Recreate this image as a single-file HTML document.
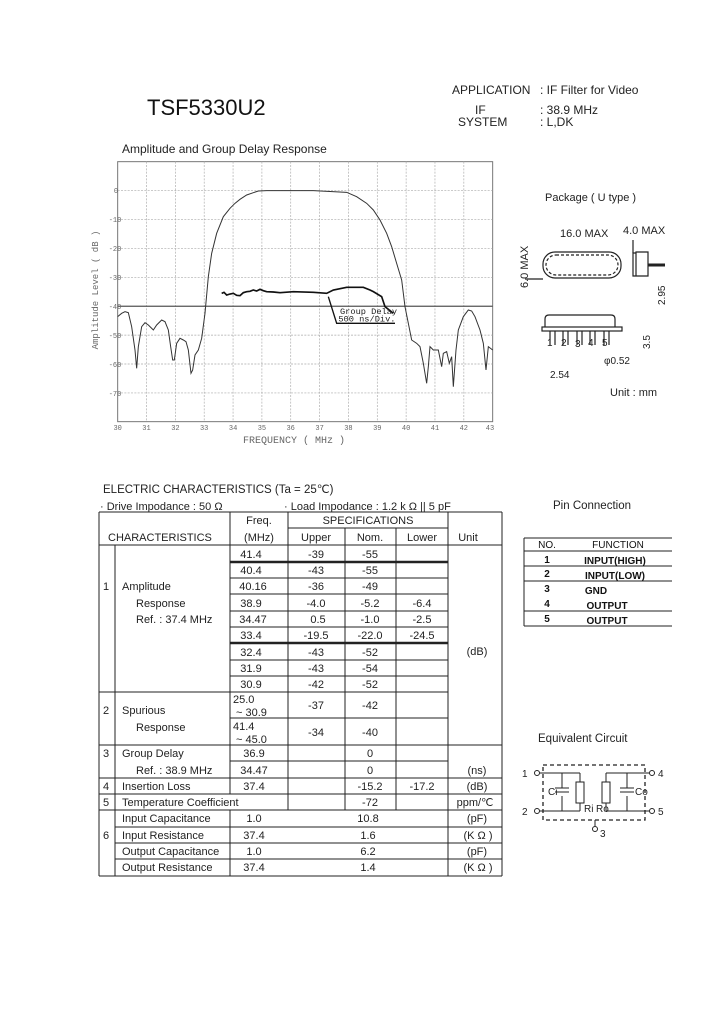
<!DOCTYPE html>
<html><head><meta charset="utf-8"><style>
html,body{margin:0;padding:0;background:#fff;}
svg{display:block;font-family:"Liberation Sans",sans-serif;}
</style></head><body>
<svg width="720" height="1012" viewBox="0 0 720 1012" xmlns="http://www.w3.org/2000/svg">
<rect width="720" height="1012" fill="#fff"/>
<text x="147" y="115" font-size="22" fill="#111">TSF5330U2</text>
<g font-size="12" fill="#222">
<text x="452" y="94">APPLICATION</text><text x="540" y="94">: IF Filter for Video</text>
<text x="475" y="114">IF</text><text x="540" y="114">: 38.9 MHz</text>
<text x="458" y="126">SYSTEM</text><text x="540" y="126">: L,DK</text>
<text x="122" y="153">Amplitude and Group Delay Response</text>
</g>
<!-- chart -->
<g transform="translate(80,150) scale(0.33333)" fill="none">
<rect x="113" y="35" width="1125" height="780" stroke="#777" stroke-width="3"/>
<g stroke="#aaa" stroke-width="2" stroke-dasharray="6 4">
<line x1="199.5" y1="35" x2="199.5" y2="815"/><line x1="286.1" y1="35" x2="286.1" y2="815"/><line x1="372.6" y1="35" x2="372.6" y2="815"/><line x1="459.2" y1="35" x2="459.2" y2="815"/><line x1="545.7" y1="35" x2="545.7" y2="815"/><line x1="632.2" y1="35" x2="632.2" y2="815"/><line x1="718.8" y1="35" x2="718.8" y2="815"/><line x1="805.3" y1="35" x2="805.3" y2="815"/><line x1="891.9" y1="35" x2="891.9" y2="815"/><line x1="978.4" y1="35" x2="978.4" y2="815"/><line x1="1064.9" y1="35" x2="1064.9" y2="815"/><line x1="1151.5" y1="35" x2="1151.5" y2="815"/>
<line x1="113" y1="122" x2="1238" y2="122"/><line x1="113" y1="208.7" x2="1238" y2="208.7"/><line x1="113" y1="295.4" x2="1238" y2="295.4"/><line x1="113" y1="382" x2="1238" y2="382"/><line x1="113" y1="555.4" x2="1238" y2="555.4"/><line x1="113" y1="642" x2="1238" y2="642"/><line x1="113" y1="728.7" x2="1238" y2="728.7"/>
</g>
<line x1="113" y1="468.7" x2="1238" y2="468.7" stroke="#555" stroke-width="4"/>
<polyline stroke="#333" stroke-width="3" points="113,500 125,490 135,485 145,488 155,530 165,600 170,655 175,590 185,530 195,518 205,525 220,540 230,525 245,510 255,515 265,540 272,590 278,630 283,630 290,580 300,565 310,570 318,575 325,600 333,670 338,660 345,615 355,600 365,565 375,490 385,380 395,310 410,250 430,200 450,175 465,160 480,148 500,135 520,128 535,123 560,122 700,122 800,127 830,140 860,160 880,180 900,210 920,250 935,290 950,340 965,390 975,470 985,520 995,570 1010,580 1020,590 1030,640 1040,700 1045,650 1050,590 1060,600 1075,600 1085,650 1090,610 1100,605 1108,640 1115,620 1120,710 1128,600 1135,540 1150,500 1165,480 1175,483 1185,500 1200,540 1210,580 1218,660 1225,590 1238,600"/>
<polyline stroke="#111" stroke-width="5" points="425,430 432,427 440,435 450,432 460,430 470,436 480,437 490,428 500,425 510,424 520,420 530,423 540,418 550,422 560,425 580,426 600,428 640,425 700,427 740,430 760,420 780,416 800,412 850,412 870,420 880,425 905,440 915,470 940,490"/>
<polyline stroke="#111" stroke-width="4" points="745,440 770,520 945,520"/>
<text x="780" y="492" fill="#222" font-size="26" font-family="Liberation Mono,monospace">Group Delay</text>
<text x="775" y="515" fill="#222" font-size="26" font-family="Liberation Mono,monospace">500 ns/Div.</text>
</g>
<g font-size="7" fill="#666" text-anchor="middle" font-family="Liberation Mono,monospace">
<text x="117.7" y="430">30</text><text x="146.5" y="430">31</text><text x="175.4" y="430">32</text><text x="204.2" y="430">33</text><text x="233.1" y="430">34</text><text x="261.9" y="430">35</text><text x="290.7" y="430">36</text><text x="319.6" y="430">37</text><text x="348.4" y="430">38</text><text x="377.3" y="430">39</text><text x="406.1" y="430">40</text><text x="435" y="430">41</text><text x="463.8" y="430">42</text><text x="490" y="430">43</text>
<text x="116" y="193">0</text><text x="115" y="222">-10</text><text x="115" y="251">-20</text><text x="115" y="280">-30</text><text x="115" y="309">-40</text><text x="115" y="338">-50</text><text x="115" y="367">-60</text><text x="115" y="396">-70</text>
</g>
<text x="243" y="443" font-size="10" fill="#666" font-family="Liberation Mono,monospace">FREQUENCY  ( MHz )</text>
<text transform="translate(98,290) rotate(-90)" font-size="9" fill="#666" text-anchor="middle" font-family="Liberation Mono,monospace">Amplitude Level  ( dB )</text>
<!-- package -->
<g font-size="11" fill="#222">
<text x="545" y="201">Package ( U type )</text>
<text x="560" y="237">16.0 MAX</text><text x="623" y="234">4.0 MAX</text>
<text transform="translate(528,288) rotate(-90)">6.0 MAX</text>
<text transform="translate(665,305) rotate(-90)" font-size="10">2.95</text>
<text transform="translate(650,349) rotate(-90)" font-size="10">3.5</text>
<text x="547" y="346" font-size="10">1</text><text x="561" y="346" font-size="10">2</text><text x="575" y="347" font-size="10">3</text><text x="588" y="346" font-size="10">4</text><text x="602" y="346" font-size="10">5</text>
<text x="604" y="364" font-size="10">φ0.52</text><text x="550" y="378" font-size="10">2.54</text>
<text x="610" y="396">Unit : mm</text>
</g>
<g fill="none" stroke="#222" stroke-width="1.2">
<rect x="543" y="252" width="78" height="26" rx="12"/>
<rect x="546" y="255" width="72" height="20" rx="10" stroke-dasharray="3 2"/>
<line x1="525" y1="279" x2="543" y2="279"/>
<line x1="633" y1="240" x2="633" y2="253"/>
<path d="M636,253 h-3 v23 h3 M636,252 h12 v24 h-12 z"/>
<line x1="648" y1="265" x2="665" y2="265" stroke-width="3"/>
<path d="M545,327 v-8 q0,-4 4,-4 h62 q4,0 4,4 v8"/>
<rect x="542" y="327" width="80" height="4"/>
<path d="M550,331 v14 M555,331 v14 M563,331 v14 M568,331 v14 M577,331 v14 M582,331 v14 M590,331 v14 M595,331 v14 M604,331 v14 M609,331 v14"/>
</g>
<!-- electric -->
<g font-size="11.5" fill="#222">
<text x="103" y="493">ELECTRIC CHARACTERISTICS   (Ta = 25℃)</text>
<text x="100" y="510" font-size="11">· Drive Impodance : 50  Ω</text>
<text x="284" y="510" font-size="11">· Load Impodance : 1.2 k Ω || 5 pF</text>
<text x="553" y="509">Pin Connection</text>
<text x="538" y="742">Equivalent Circuit</text>
</g>
<!-- table lines -->
<g stroke="#222" stroke-width="1">
<line x1="99" y1="512" x2="502" y2="512"/><line x1="288" y1="528" x2="448" y2="528"/><line x1="99" y1="545" x2="502" y2="545"/>
<line x1="230" y1="562" x2="448" y2="562" stroke-width="2.5"/><line x1="230" y1="643" x2="448" y2="643" stroke-width="2.5"/>
<line x1="230" y1="578" x2="448" y2="578"/><line x1="230" y1="594" x2="448" y2="594"/><line x1="230" y1="611" x2="448" y2="611"/><line x1="230" y1="627" x2="448" y2="627"/><line x1="230" y1="660" x2="448" y2="660"/><line x1="230" y1="676" x2="448" y2="676"/>
<line x1="99" y1="692" x2="448" y2="692"/><line x1="230" y1="718" x2="448" y2="718"/><line x1="99" y1="745" x2="502" y2="745"/><line x1="230" y1="761" x2="448" y2="761"/>
<line x1="99" y1="778" x2="502" y2="778"/><line x1="99" y1="794" x2="502" y2="794"/><line x1="99" y1="810" x2="502" y2="810"/>
<line x1="115" y1="827" x2="502" y2="827"/><line x1="115" y1="843" x2="502" y2="843"/><line x1="115" y1="859" x2="502" y2="859"/><line x1="99" y1="876" x2="502" y2="876"/>
<line x1="99" y1="512" x2="99" y2="876"/><line x1="502" y1="512" x2="502" y2="876"/><line x1="115" y1="545" x2="115" y2="876"/>
<line x1="230" y1="512" x2="230" y2="794"/><line x1="230" y1="810" x2="230" y2="876"/>
<line x1="288" y1="512" x2="288" y2="810"/><line x1="345" y1="528" x2="345" y2="810"/><line x1="396" y1="528" x2="396" y2="810"/><line x1="448" y1="512" x2="448" y2="876"/>
</g>
<g font-size="11" fill="#222">
<text x="108" y="541">CHARACTERISTICS</text>
<g text-anchor="middle">
<text x="259" y="524">Freq.</text><text x="259" y="541">(MHz)</text><text x="368" y="524">SPECIFICATIONS</text>
<text x="316" y="541">Upper</text><text x="370" y="541">Nom.</text><text x="422" y="541">Lower</text><text x="468" y="541">Unit</text>
<text x="251" y="558">41.4</text><text x="316" y="558">-39</text><text x="370" y="558">-55</text>
<text x="251" y="574">40.4</text><text x="316" y="574">-43</text><text x="370" y="574">-55</text>
<text x="253" y="590">40.16</text><text x="316" y="590">-36</text><text x="370" y="590">-49</text>
<text x="251" y="607">38.9</text><text x="316" y="607">-4.0</text><text x="370" y="607">-5.2</text><text x="422" y="607">-6.4</text>
<text x="253" y="623">34.47</text><text x="318" y="623">0.5</text><text x="370" y="623">-1.0</text><text x="422" y="623">-2.5</text>
<text x="251" y="639">33.4</text><text x="316" y="639">-19.5</text><text x="370" y="639">-22.0</text><text x="422" y="639">-24.5</text>
<text x="251" y="656">32.4</text><text x="316" y="656">-43</text><text x="370" y="656">-52</text>
<text x="251" y="672">31.9</text><text x="316" y="672">-43</text><text x="370" y="672">-54</text>
<text x="251" y="688">30.9</text><text x="316" y="688">-42</text><text x="370" y="688">-52</text>
<text x="477" y="655">(dB)</text>
<text x="316" y="709">-37</text><text x="370" y="709">-42</text><text x="316" y="736">-34</text><text x="370" y="736">-40</text>
<text x="254" y="757">36.9</text><text x="370" y="757">0</text>
<text x="254" y="774">34.47</text><text x="370" y="774">0</text><text x="477" y="774">(ns)</text>
<text x="254" y="790">37.4</text><text x="370" y="790">-15.2</text><text x="422" y="790">-17.2</text><text x="477" y="790">(dB)</text>
<text x="370" y="806">-72</text><text x="475" y="806">ppm/℃</text>
<text x="254" y="822">1.0</text><text x="368" y="822">10.8</text><text x="477" y="822">(pF)</text>
<text x="254" y="839">37.4</text><text x="368" y="839">1.6</text><text x="478" y="839">(K Ω )</text>
<text x="254" y="855">1.0</text><text x="368" y="855">6.2</text><text x="477" y="855">(pF)</text>
<text x="254" y="871">37.4</text><text x="368" y="871">1.4</text><text x="478" y="871">(K Ω )</text>
</g>
<text x="103" y="590">1</text><text x="122" y="590">Amplitude</text><text x="136" y="607">Response</text><text x="136" y="623">Ref. :   37.4 MHz</text>
<text x="103" y="714">2</text><text x="122" y="714">Spurious</text><text x="136" y="731">Response</text>
<text x="233" y="703">25.0</text><text x="236" y="716">~  30.9</text><text x="233" y="730">41.4</text><text x="236" y="743">~  45.0</text>
<text x="103" y="757">3</text><text x="122" y="757">Group Delay</text><text x="136" y="774">Ref. :   38.9 MHz</text>
<text x="103" y="790">4</text><text x="122" y="790">Insertion Loss</text>
<text x="103" y="806">5</text><text x="122" y="806">Temperature Coefficient</text>
<text x="103" y="839">6</text><text x="122" y="822">Input Capacitance</text><text x="122" y="839">Input Resistance</text><text x="122" y="855">Output Capacitance</text><text x="122" y="871">Output Resistance</text>
</g>
<!-- pin table -->
<g stroke="#222" stroke-width="1">
<line x1="524" y1="538" x2="672" y2="538"/><line x1="524" y1="551" x2="672" y2="551"/><line x1="524" y1="566" x2="672" y2="566"/><line x1="524" y1="581" x2="672" y2="581"/><line x1="524" y1="611" x2="672" y2="611"/><line x1="524" y1="626" x2="672" y2="626"/>
<line x1="524" y1="538" x2="524" y2="626"/>
</g>
<g font-size="10" fill="#111" font-weight="bold" text-anchor="middle">
<text x="547" y="548" font-weight="normal">NO.</text><text x="618" y="548" font-weight="normal">FUNCTION</text>
<text x="547" y="563">1</text><text x="615" y="564">INPUT(HIGH)</text>
<text x="547" y="577">2</text><text x="615" y="579">INPUT(LOW)</text>
<text x="547" y="592">3</text><text x="596" y="594">GND</text>
<text x="547" y="607">4</text><text x="607" y="609">OUTPUT</text>
<text x="547" y="622">5</text><text x="607" y="624">OUTPUT</text>
</g>
<!-- equivalent circuit -->
<g fill="none" stroke="#222" stroke-width="1">
<rect x="543" y="765" width="102" height="55" stroke-dasharray="4 3" stroke-width="1.3"/>
<circle cx="537" cy="773" r="2.5"/><circle cx="537" cy="811" r="2.5"/><circle cx="652" cy="773" r="2.5"/><circle cx="652" cy="811" r="2.5"/><circle cx="595" cy="829" r="2.5"/>
<path d="M540,773 H580 M540,811 H580 M562,773 V788 M562,796 V811 M555,788 h14 M555,792 h14 M580,773 V782 M580,803 V811"/>
<rect x="576" y="782" width="8" height="21"/>
<path d="M649,773 H606 M649,811 H606 M627,773 V788 M627,796 V811 M620,788 h14 M620,792 h14 M606,773 V782 M606,803 V811"/>
<rect x="602" y="782" width="8" height="21"/>
<line x1="595" y1="820" x2="595" y2="826"/>
</g>
<g font-size="10" fill="#222">
<text x="522" y="777">1</text><text x="522" y="815">2</text><text x="658" y="777">4</text><text x="658" y="815">5</text><text x="600" y="837">3</text>
<text x="548" y="795">Ci</text><text x="635" y="795">Co</text><text x="584" y="812">Ri</text><text x="596" y="812">Ro</text>
</g>
</svg>
</body></html>
